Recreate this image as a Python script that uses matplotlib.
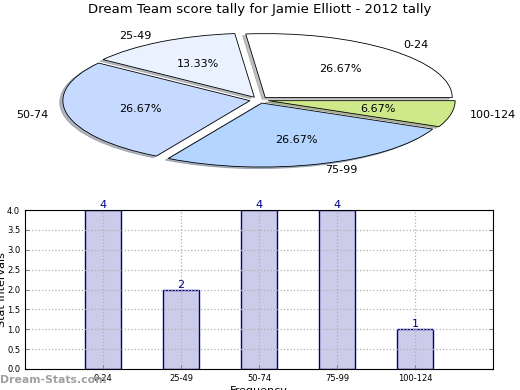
import matplotlib
matplotlib.use("Agg")
import matplotlib.pyplot as plt

categories = ["0-24", "25-49", "50-74", "75-99", "100-124"]
counts = [4, 2, 4, 4, 1]
pie_colors = ["#ffffff", "#ebf2ff", "#c6d9ff", "#b4d5ff", "#cde98a"]
yticks = [0.0, 0.5, 1.0, 1.5, 2.0, 2.5, 3.0, 3.5, 4.0]

W, H = 520, 390
fig = plt.figure(figsize=(5.2, 3.9), dpi=100)

# Pie axes (stretched ellipse)
cx, cy = 259, 290
rx, ry = 187, 64
xl, yl = 1.3, 1.2
axp = fig.add_axes([(cx - xl * rx) / W, (cy - yl * ry) / H, 2 * xl * rx / W, 2 * yl * ry / H])
wedges, texts, autotexts = axp.pie(
    counts, labels=categories, colors=pie_colors, explode=[0.05] * 5,
    autopct="%.2f%%", shadow=dict(ox=-0.012, oy=-0.018, shade=0.5), startangle=0,
    wedgeprops=dict(edgecolor="black", linewidth=0.6),
    textprops=dict(fontsize=8))
axp.set_aspect("auto")
axp.set_xlim(-xl, xl)
axp.set_ylim(-yl, yl)
axp.axis("off")
fig.text(0.5, 1 - 10 / H, "Dream Team score tally for Jamie Elliott - 2012 tally",
         ha="center", va="center", fontsize=9.5)

# Bar axes
axb = fig.add_axes([25 / W, 1 - 369 / H, (493 - 25) / W, (369 - 210) / H])
x = list(range(len(categories)))
bars = axb.bar(x, counts, width=0.46, color="#ccccea", edgecolor="navy", linewidth=1, zorder=1)
for xi, c in zip(x, counts):
    axb.text(xi, c, str(c), ha="center", va="bottom", color="navy", fontsize=8, zorder=4)
axb.set_xlim(-1, 5)
axb.set_ylim(0, 4)
axb.set_xticks(x)
axb.set_xticklabels(categories, fontsize=6)
axb.set_yticks(yticks)
axb.set_yticklabels([f"{v:.1f}" for v in yticks], fontsize=6)
axb.tick_params(direction="in", right=True, top=False, length=3, color="#888888")
axb.set_axisbelow(False)
axb.grid(True, linestyle=":", color="#b0b0b0", linewidth=0.9, zorder=2)
for sp in axb.spines.values():
    sp.set_zorder(5)
axb.set_xlabel("Frequency", fontsize=8, labelpad=2)
axb.set_ylabel("Stat Intervals", fontsize=8, labelpad=0)

fig.text(0, 1 - 380 / H, "Dream-Stats.com", color="#a0a0a0", fontsize=7.8,
         fontweight="bold", ha="left", va="center")

fig.savefig("out.png", dpi=100)
